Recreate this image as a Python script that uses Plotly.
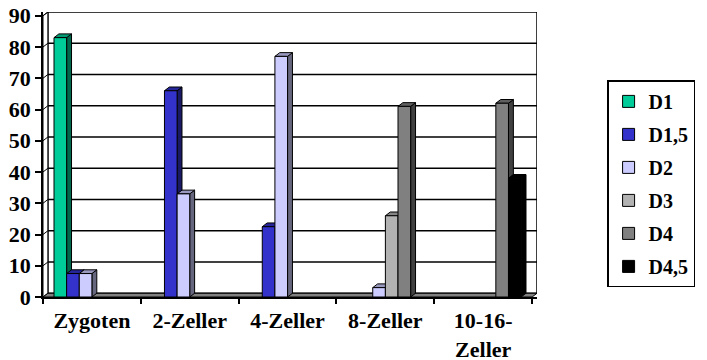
import plotly.graph_objects as go

# Entwicklungsstadien (x-Kategorien) und Anteile je Untersuchungstag
stages = ["Zygoten", "2-Zeller", "4-Zeller", "8-Zeller", "10-16-<br>Zeller"]
series_names = ["D1", "D1,5", "D2", "D3", "D4", "D4,5"]
d1 = [83, 0, 0, 0, 0]
d1_5 = [7.5, 66, 22.5, 0, 0]
d2 = [7.5, 33, 77, 3, 0]
d3 = [0, 0, 0, 26, 0]
d4 = [0, 0, 0, 61, 62]
d4_5 = [0, 0, 0, 0, 38]
y_ticks = [0, 10, 20, 30, 40, 50, 60, 70, 80, 90]

all_series = [d1, d1_5, d2, d3, d4, d4_5]
front_colors = ["#00CC99", "#3333CC", "#CCCCFF", "#B2B2B2", "#808080", "#000000"]


def shade(hex_color, f):
    r, g, b = (int(hex_color[i:i + 2], 16) for i in (1, 3, 5))
    return "#%02x%02x%02x" % (int(r * f), int(g * f), int(b * f))


# pseudo-3D depth of walls and columns (x in category units, y in value units)
DX = 0.05
DY = 1.2
BARGAP = 0.225
n = len(all_series)
slot = (1 - BARGAP) / n

fig = go.Figure()
for name, vals, col in zip(series_names, all_series, front_colors):
    fig.add_trace(go.Bar(
        name=name,
        x=list(range(len(stages))),
        y=[v if v > 0 else None for v in vals],
        marker=dict(color=col, line=dict(color="black", width=1)),
        legendgroup=name,
        hovertemplate=name + ": %{y}<extra></extra>",
    ))

shapes = []
line_k = dict(color="black", width=1.5)
x_lo, x_hi = -0.5, len(stages) - 0.5
ymax = y_ticks[-1]

# back wall with gridlines
shapes.append(dict(type="rect", xref="x", yref="y", layer="below",
                   x0=x_lo + DX, x1=x_hi + DX, y0=DY, y1=ymax + DY,
                   fillcolor="white", line=line_k))
for t in y_ticks[1:-1]:
    shapes.append(dict(type="line", xref="x", yref="y", layer="below",
                       x0=x_lo + DX, x1=x_hi + DX, y0=t + DY, y1=t + DY, line=line_k))
# left side wall
shapes.append(dict(type="path", xref="x", yref="y", layer="below",
                   path=f"M{x_lo},0 L{x_lo},{ymax} L{x_lo + DX},{ymax + DY} L{x_lo + DX},{DY} Z",
                   fillcolor="white", line=dict(color="black", width=1)))
for t in y_ticks[1:]:
    shapes.append(dict(type="line", xref="x", yref="y", layer="below",
                       x0=x_lo, x1=x_lo + DX, y0=t, y1=t + DY,
                       line=dict(color="black", width=1)))
# floor
shapes.append(dict(type="path", xref="x", yref="y", layer="below",
                   path=f"M{x_lo},0 L{x_hi},0 L{x_hi + DX},{DY} L{x_lo + DX},{DY} Z",
                   fillcolor="#808080", line=dict(color="black", width=1)))

# side and top faces of the columns (front faces are the bar traces)
for i in range(len(stages)):
    for j, (vals, col) in enumerate(zip(all_series, front_colors)):
        v = vals[i]
        if v <= 0:
            continue
        xl = i - (1 - BARGAP) / 2 + j * slot
        xr = xl + slot
        shapes.append(dict(type="path", xref="x", yref="y", layer="below",
                           path=f"M{xr},0 L{xr + DX},{DY} L{xr + DX},{v + DY} L{xr},{v} Z",
                           fillcolor=shade(col, 0.5), line=dict(color="black", width=1)))
        shapes.append(dict(type="path", xref="x", yref="y", layer="below",
                           path=f"M{xl},{v} L{xl + DX},{v + DY} L{xr + DX},{v + DY} L{xr},{v} Z",
                           fillcolor=shade(col, 0.75), line=dict(color="black", width=1)))

serif = "Liberation Serif"

fig.update_layout(
    width=707, height=360,
    margin=dict(l=43, r=156, t=12, b=63),
    paper_bgcolor="white", plot_bgcolor="white",
    barmode="group", bargap=BARGAP, bargroupgap=0,
    shapes=shapes,
    font=dict(family=serif, color="black", size=20, weight="bold"),
    showlegend=True,
    legend=dict(
        x=1.32, xanchor="right", y=0.76, yanchor="top",
        bordercolor="black", borderwidth=1.5, bgcolor="white",
        font=dict(family=serif, size=20),
        tracegroupgap=4, itemwidth=30,
    ),
    xaxis=dict(
        range=[x_lo, x_hi + DX],
        tickmode="array", tickvals=list(range(len(stages))), ticktext=stages,
        ticks="", showgrid=False, zeroline=False,
        ticklabelstandoff=3, automargin=False,
        showline=True, linecolor="black", linewidth=1.5,
        tickfont=dict(family=serif, size=22),
        minor=dict(tickmode="array", tickvals=[k - 0.5 for k in range(len(stages) + 1)],
                   ticks="outside", ticklen=5, tickcolor="black", tickwidth=1.5,
                   showgrid=False),
        fixedrange=True,
    ),
    yaxis=dict(
        range=[0, ymax + DY],
        tickmode="array", tickvals=y_ticks,
        ticks="outside", ticklen=6, tickcolor="black", tickwidth=1.5,
        showgrid=False, zeroline=False, automargin=False,
        showline=True, linecolor="black", linewidth=1.5,
        tickfont=dict(family=serif, size=22),
        fixedrange=True,
    ),
)

fig.write_html("out.html")
